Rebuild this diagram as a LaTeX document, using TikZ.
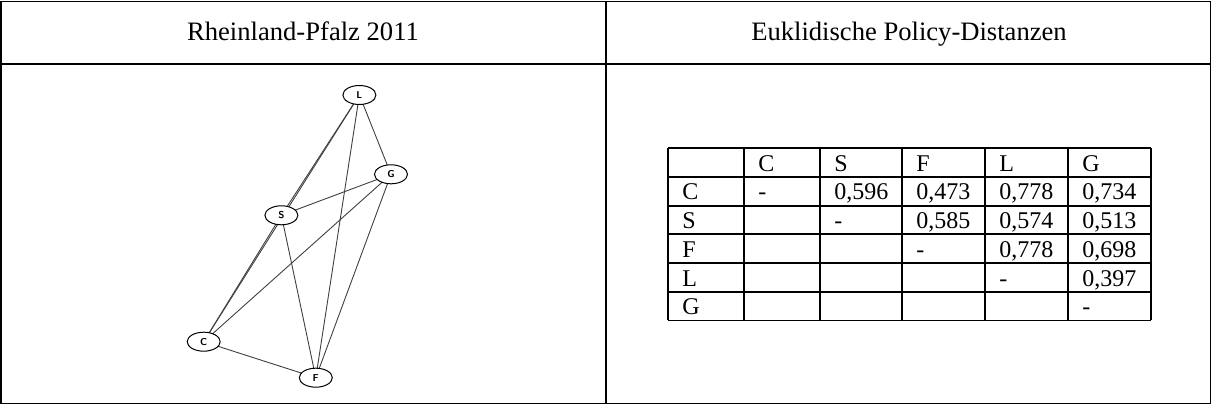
\documentclass[tikz,border=0pt]{standalone}
\usepackage{fontspec}
\setmainfont{Liberation Serif}
\usetikzlibrary{shapes.geometric,backgrounds}
\begin{document}
\begin{tikzpicture}[x=0.5pt,y=-0.5pt,font=\fontsize{12}{14}\selectfont,
	rahmen/.style={line width=0.95pt},
	titel/.style={anchor=base,font=\fontsize{13.3}{15}\selectfont},
	kante/.style={line width=0.45pt,black!75},
	partei/.style={draw,ellipse,fill=white,line width=0.5pt,minimum width=16.5pt,minimum height=9.5pt,inner sep=0pt,
		font=\sffamily\bfseries\fontsize{5}{5}\selectfont},
	zelle/.style={anchor=base west,inner sep=0pt}]
	\useasboundingbox (0,0) rectangle (1212,405);

	% frame of the two panels
	\draw [rahmen] (1,1.5) rectangle (1210.5,403.5);
	\draw [rahmen] (606,1.5) -- (606,403.5);
	\draw [rahmen] (1,64) -- (1210.5,64);
	\node [titel] (titelL) at (303,41) {Rheinland-Pfalz 2011};
	\node [titel] (titelR) at (909,41) {Euklidische Policy-Distanzen};

	% party network
	\node [partei] (L) at (359.4,95) {L};
	\node [partei] (G) at (391,174.3) {G};
	\node [partei] (S) at (281.4,215.3) {S};
	\node [partei] (C) at (203.7,341.7) {C};
	\node [partei] (F) at (315.8,377.7) {F};
	\begin{scope}[on background layer]
		\foreach \a/\b in {L/S,L/C,L/G,L/F,S/G,S/C,S/F,G/C,G/F,C/F}
			\draw [kante] (\a.center) -- (\b.center);
	\end{scope}

	% distance table
	\foreach \x in {668,744,820,902,985,1068,1151}
		\draw [rahmen] (\x,148.3) -- (\x,320.5);
	\foreach \i in {0,...,6}
		\draw [rahmen] (668,{148.3+28.7*\i}) -- (1151,{148.3+28.7*\i});
	\foreach \s/\x in {0/682,1/758,2/834,3/916,4/999,5/1082}
		\coordinate (sp\s) at (\x,0);
	\foreach \s/\z/\t in {1/0/C,2/0/S,3/0/F,4/0/L,5/0/G,
			0/1/C,0/2/S,0/3/F,0/4/L,0/5/G,
			1/1/-,2/1/{0,596},3/1/{0,473},4/1/{0,778},5/1/{0,734},
			2/2/-,3/2/{0,585},4/2/{0,574},5/2/{0,513},
			3/3/-,4/3/{0,778},5/3/{0,698},
			4/4/-,5/4/{0,397},
			5/5/-}
		\node [zelle] (t\z\s) at ([yshift={-0.5pt*(148.3+28.7*(\z+1)-5.7)}]sp\s) {\t};
\end{tikzpicture}
\end{document}
